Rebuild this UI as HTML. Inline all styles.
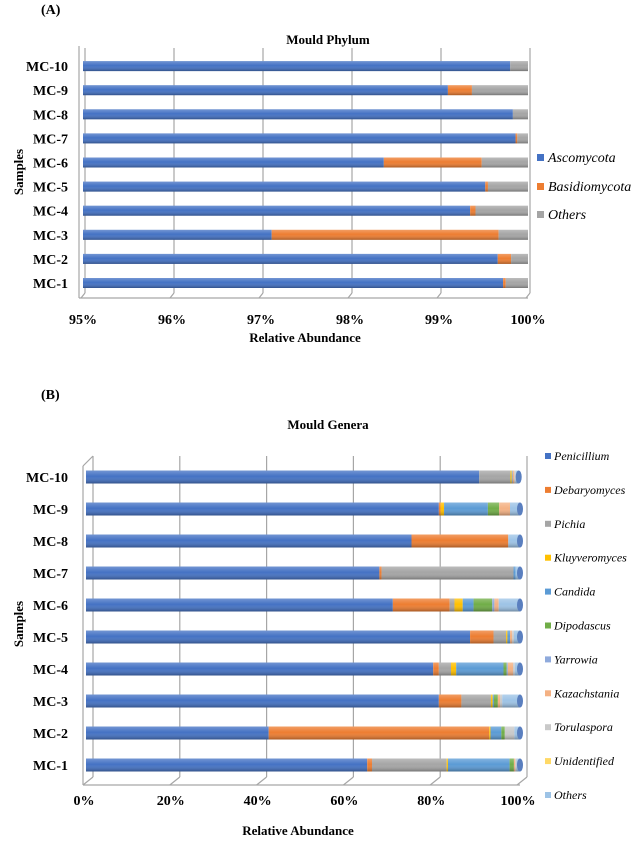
<!DOCTYPE html>
<html><head><meta charset="utf-8"><style>
body{margin:0;background:#fff}
svg text{font-family:"Liberation Serif",serif}
</style></head><body>
<svg id="s" width="641" height="848" xmlns="http://www.w3.org/2000/svg">
<defs>
<linearGradient id="sh" x1="0" y1="0" x2="0" y2="1">
<stop offset="0" stop-color="#fff" stop-opacity="0.25"/><stop offset="0.45" stop-color="#fff" stop-opacity="0"/><stop offset="1" stop-color="#000" stop-opacity="0.3"/>
</linearGradient>
</defs>
<text x="41" y="14" font-size="14" font-weight="bold">(A)</text>
<text x="328" y="44" font-size="13" font-weight="bold" text-anchor="middle">Mould Phylum</text>
<text x="305" y="342" font-size="13" font-weight="bold" text-anchor="middle">Relative Abundance</text>
<text transform="translate(23,172) rotate(-90)" font-size="13" font-weight="bold" text-anchor="middle">Samples</text>
<text x="41" y="399" font-size="14" font-weight="bold">(B)</text>
<text x="328" y="429" font-size="13" font-weight="bold" text-anchor="middle">Mould Genera</text>
<text x="298" y="835" font-size="13" font-weight="bold" text-anchor="middle">Relative Abundance</text>
<text transform="translate(23,624) rotate(-90)" font-size="13" font-weight="bold" text-anchor="middle">Samples</text>
<g id="ga"></g><g id="gb"></g>
</svg>
<script>
const samples=["MC-1","MC-2","MC-3","MC-4","MC-5","MC-6","MC-7","MC-8","MC-9","MC-10"];
const phyla=["Ascomycota","Basidiomycota","Others"];
const ascomycota=[99.72,99.66,97.12,99.35,99.52,98.38,99.86,99.83,99.10,99.80];
const basidiomycota=[0.03,0.15,2.55,0.06,0.03,1.10,0.02,0,0.27,0];
const aTicks=[95,96,97,98,99,100];
const genera=["Penicillium","Debaryomyces","Pichia","Kluyveromyces","Candida","Dipodascus","Yarrowia","Kazachstania","Torulaspora","Unidentified","Others"];
const penicillium=[64.8,42.1,81.3,80.0,88.5,70.7,67.6,75.0,81.3,90.6];
const debaryomyces=[1.1,50.8,5.2,1.3,5.4,13.1,0.5,22.3,0.4,0];
const pichia=[17.2,0,6.8,2.8,2.9,1.1,30.4,0,0,7.2];
const kluyveromyces=[0.3,0.3,0.4,1.2,0.3,1.9,0,0,0.8,0.3];
const candida=[14.2,2.5,0.3,10.9,0.6,2.5,0.5,0,10.1,0.2];
const dipodascus=[1.0,0.8,0.9,0.7,0,4.3,0,0,2.6,0];
const yarrowia=[0,0,0,0.3,0,0.5,0,0,0,0];
const kazachstania=[0.3,0,0.5,1.2,0.5,1.0,0,0,2.5,0.4];
const torulaspora=[0.3,2.2,0.5,0.4,0.4,0,0,0,0,0.3];
const unidentified=[0,0,0,0,0,0,0,0,0,0];
const othersB=[0.8,1.3,4.1,1.2,1.4,4.9,1.0,2.7,2.3,0.7];
const bTicks=[0,20,40,60,80,100];

const NS="http://www.w3.org/2000/svg";
function mk(p,t,a){const e=document.createElementNS(NS,t);for(const k in a)e.setAttribute(k,a[k]);p.appendChild(e);return e;}

// Chart A
const ga=document.getElementById('ga');
const xA=v=>83+(v-95)*89;
const yA=i=>283-i*24.1;
aTicks.forEach(t=>{
  const l=mk(ga,'line',{x1:xA(t)+2,y1:48,x2:xA(t)+2,y2:293,stroke:'#a6a6a6','stroke-width':1.2});
  
  
  const l2=mk(ga,'line',{x1:xA(t)+2,y1:293,x2:xA(t)-2,y2:298,stroke:'#a6a6a6','stroke-width':1.2});
  
  
  const tx=mk(ga,'text',{x:xA(t),y:324,'font-size':14,'font-weight':'bold','text-anchor':'middle'});
  tx.textContent=t+'%';
  
  
});
mk(ga,'line',{x1:79,y1:46,x2:79,y2:298,stroke:'#a6a6a6','stroke-width':1.2});
mk(ga,'line',{x1:79,y1:298,x2:528,y2:298,stroke:'#a6a6a6','stroke-width':1.2});
const colA=['#4472C4','#ED7D31','#A5A5A5'];
samples.forEach((s,i)=>{
  const y=yA(i);
  const vals=[ascomycota[i],basidiomycota[i],100-ascomycota[i]-basidiomycota[i]];
  let acc=0;
  vals.forEach((v,k)=>{
    const a=Math.max(acc,95), b=Math.min(acc+v,100);
    if(b>a){const r=mk(ga,'rect',{x:xA(a),y:y-5,width:xA(b)-xA(a),height:10,fill:colA[k]});
      
      }
    acc+=v;
  });
  mk(ga,'rect',{x:xA(95),y:y-5,width:xA(100)-xA(95),height:10,fill:'url(#sh)'});
  const t=mk(ga,'text',{x:68,y:y+5,'font-size':14,'font-weight':'bold','text-anchor':'end'});
  t.textContent=s;
  
  
});
[158,187,215].forEach((y,k)=>{
  const r=mk(ga,'rect',{x:537,y:y-4,width:7,height:7,fill:colA[k]});
  
  
  const t=mk(ga,'text',{x:548,y:y+4,'font-size':14,'font-style':'italic'});
  t.textContent=phyla[k];
  
  
});

// Chart B
const gb=document.getElementById('gb');
const xB=v=>86+v*4.34;
const yB=i=>765-i*32;
bTicks.forEach(t=>{
  const l=mk(gb,'line',{x1:xB(t)+7,y1:456,x2:xB(t)+7,y2:777,stroke:'#a6a6a6','stroke-width':1.2});
  
  
  mk(gb,'line',{x1:xB(t)+7,y1:777,x2:xB(t)-3,y2:785,stroke:'#a6a6a6','stroke-width':1.2});
  const tx=mk(gb,'text',{x:xB(t)-2,y:805,'font-size':14,'font-weight':'bold','text-anchor':'middle'});
  tx.textContent=t+'%';
  
  
});
mk(gb,'line',{x1:83,y1:466,x2:83,y2:785,stroke:'#a6a6a6','stroke-width':1.2});
mk(gb,'line',{x1:83,y1:785,x2:520,y2:785,stroke:'#a6a6a6','stroke-width':1.2});
mk(gb,'line',{x1:83,y1:466,x2:93,y2:456,stroke:'#a6a6a6','stroke-width':1.2});
const series=[penicillium,debaryomyces,pichia,kluyveromyces,candida,dipodascus,yarrowia,kazachstania,torulaspora,unidentified,othersB];
const colB=['#4472C4','#ED7D31','#A5A5A5','#FFC000','#5B9BD5','#70AD47','#8FAADC','#F4B183','#C9C9C9','#FFD966','#9DC3E6'];
samples.forEach((s,i)=>{
  const y=yB(i);
  let acc=0;
  series.forEach((arr,k)=>{
    const v=arr[i];
    if(v>0){const r=mk(gb,'rect',{x:xB(acc),y:y-6.5,width:xB(acc+v)-xB(acc),height:13,fill:colB[k]});
      
      }
    acc+=v;
  });
  mk(gb,'rect',{x:xB(0),y:y-6.5,width:xB(acc)-xB(0),height:13,fill:'url(#sh)'});
  mk(gb,'ellipse',{cx:xB(acc),cy:y,rx:3,ry:6.5,fill:'#5a7fbf'});
  const t=mk(gb,'text',{x:68,y:y+5,'font-size':14,'font-weight':'bold','text-anchor':'end'});
  t.textContent=s;
  
  
});
genera.forEach((g,k)=>{
  const y=457+k*33.9;
  const r=mk(gb,'rect',{x:545,y:y-4,width:6,height:6,fill:colB[k]});
  
  
  const t=mk(gb,'text',{x:554,y:y+3,'font-size':12,'font-style':'italic'});
  t.textContent=g;
  
  
});
</script>
</body></html>
